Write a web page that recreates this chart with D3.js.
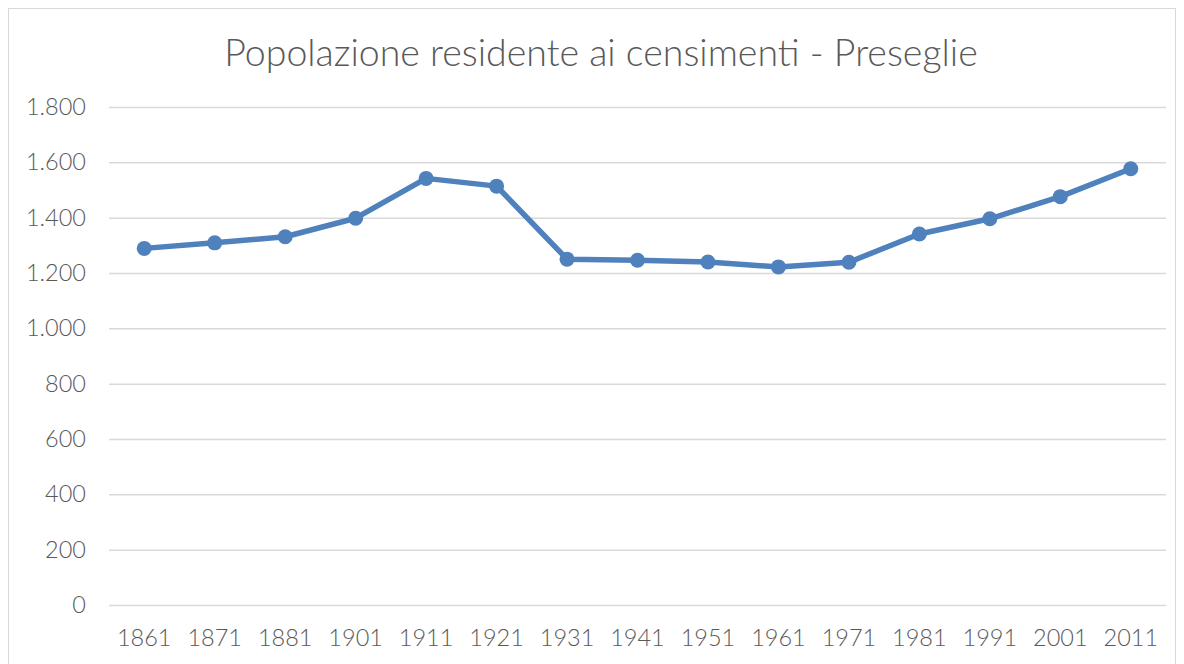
<!DOCTYPE html>
<html>
<head>
<meta charset="utf-8">
<script src="https://cdn.jsdelivr.net/npm/d3@7"></script>
<style>
  html, body { margin: 0; padding: 0; background: #fff; }
  svg { display: block; font-family: Lato, "Open Sans", sans-serif; }
</style>
</head>
<body>
<svg id="chart" width="1184" height="664"></svg>
<script>
// Censimenti della popolazione residente
const years = ["1861","1871","1881","1901","1911","1921","1931","1941","1951","1961","1971","1981","1991","2001","2011"];
const population = [1289, 1309, 1331, 1398, 1542, 1514, 1250, 1246, 1240, 1222, 1239, 1341, 1396, 1476, 1577];
const yTicks = [0, 200, 400, 600, 800, 1000, 1200, 1400, 1600, 1800];
const chartTitle = "Popolazione residente ai censimenti - Preseglie";

const svg = d3.select("#chart");
const W = 1184, H = 664;
const margin = { left: 109, right: 18, top: 107, bottom: 58 };
const plotW = W - margin.left - margin.right;
const plotH = H - margin.top - margin.bottom - 1;

// Chart frame
svg.append("rect")
  .attr("x", 8.5).attr("y", 8.5)
  .attr("width", 1167).attr("height", 670)
  .attr("fill", "#fff").attr("stroke", "#d9d9d9").attr("stroke-width", 1);

const x = d3.scaleBand().domain(years).range([margin.left, margin.left + plotW]);
const y = d3.scaleLinear().domain([0, 1800]).range([margin.top + plotH, margin.top]);

const fmt = d3.formatLocale({ decimal: ",", thousands: ".", grouping: [3], currency: ["€", ""] }).format(",d");

// Title
svg.append("text")
  .attr("x", 601).attr("y", 66)
  .attr("text-anchor", "middle")
  .attr("font-size", 37.5).attr("font-weight", 300)
  .attr("fill", "#595959")
  .text(chartTitle);

// Gridlines and y labels
const yAxis = d3.axisLeft(y).tickValues(yTicks).tickSize(-plotW).tickPadding(23).tickFormat(fmt);
const gy = svg.append("g").attr("transform", `translate(${margin.left},0)`).call(yAxis);
gy.select(".domain").remove();
gy.selectAll(".tick line").attr("stroke", "#d9d9d9").attr("stroke-width", 1.5);
gy.selectAll(".tick text")
  .attr("font-size", 23.5).attr("font-weight", 300)
  .attr("fill", "#595959").attr("font-family", "Lato, sans-serif");

// x labels
const xAxis = d3.axisBottom(x).tickSize(0).tickPadding(24);
const gx = svg.append("g").attr("transform", `translate(0,${y(0)})`).call(xAxis);
gx.select(".domain").remove();
gx.selectAll(".tick text")
  .attr("font-size", 23.5).attr("font-weight", 300)
  .attr("fill", "#595959").attr("font-family", "Lato, sans-serif");

// Series line and markers
const cx = d => x(d) + x.bandwidth() / 2;
const line = d3.line().x((d, i) => cx(years[i])).y(d => y(d));
svg.append("path")
  .datum(population)
  .attr("d", line)
  .attr("fill", "none")
  .attr("stroke", "#4f81bd")
  .attr("stroke-width", 5.5)
  .attr("stroke-linejoin", "round")
  .attr("stroke-linecap", "round");

svg.append("g").selectAll("circle")
  .data(population)
  .join("circle")
  .attr("cx", (d, i) => cx(years[i]))
  .attr("cy", d => y(d))
  .attr("r", 7.5)
  .attr("fill", "#4f81bd");
</script>
</body>
</html>
